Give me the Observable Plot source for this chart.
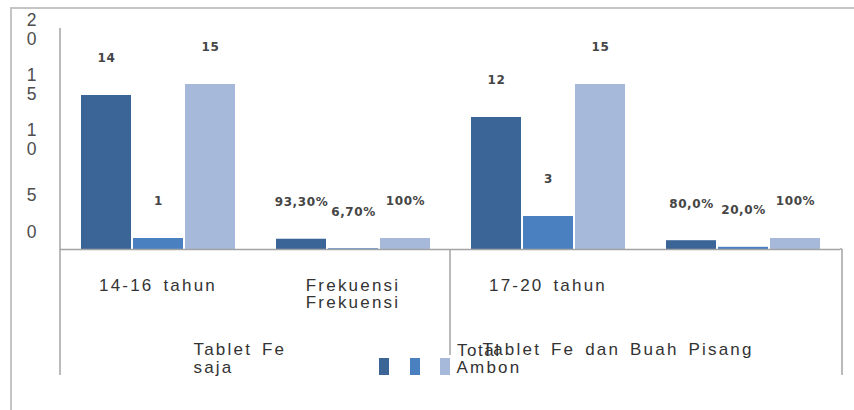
<!DOCTYPE html>
<html><head><meta charset="utf-8">
<script src="https://cdn.jsdelivr.net/npm/d3@7"></script>
<script src="https://cdn.jsdelivr.net/npm/@observablehq/plot@0.6"></script>
<style>
body{margin:0;background:#fff;}
#wrap{position:relative;width:854px;height:410px;overflow:hidden;background:#fff;font-family:"Liberation Sans",Arial,sans-serif;}
#border{position:absolute;left:10px;top:7px;width:900px;height:500px;border-top:2px solid #c4c4c4;border-left:2px solid #c4c4c4;pointer-events:none;}
#wrap svg{position:absolute;left:0;top:0;}
#wrap svg g[font-size="17"]{letter-spacing:2.2px;word-spacing:3px;}
#wrap svg g[font-size="12"]{letter-spacing:0.6px;}
.leg{position:absolute;top:358px;width:10px;height:17px;}
.legtxt{position:absolute;font-size:17px;letter-spacing:1.5px;color:#333;}
</style></head><body>
<div id="wrap"><div id="border"></div></div>
<script>
// ---- data ----
const groupKeys = ["g1", "g2", "g3", "g4"];
const groupLabels = ["14-16 tahun", "Frekuensi\nFrekuensi", "17-20 tahun", ""];
const seriesKeys = ["s1", "s2", "Total"];
const seriesColors = ["#3c6597", "#4a7fc0", "#a6b9da"];
const legendLabels = ["", "", "Total"];
const values = [
  [14, 1, 15],
  [0.933, 0.067, 1],
  [12, 3, 15],
  [0.8, 0.2, 1]
];
const valueLabels = [
  ["14", "1", "15"],
  ["93,30%", "6,70%", "100%"],
  ["12", "3", "15"],
  ["80,0%", "20,0%", "100%"]
];
const yTicks = [0, 5, 10, 15, 20];
const yTickLabels = ["0", "5", "1\n0", "1\n5", "2\n0"];
const topGroupKeys = ["g1", "g3"];
const topGroupLabels = ["Tablet Fe\nsaja", "Tablet Fe dan Buah Pisang"];
const topGroupExtra = ["", "Ambon"];

// ---- table ----
const data = groupKeys.flatMap((g, i) => seriesKeys.map((s, j) => ({
  group: g, series: s, value: values[i][j], label: valueLabels[i][j]
})));
const ticks = yTicks.map((t, i) => ({t, label: yTickLabels[i]}));
const groupRows = groupKeys.map((g, i) => ({g, label: groupLabels[i]}));
const topRows = topGroupKeys.map((g, i) => ({g, label: topGroupLabels[i], extra: topGroupExtra[i]}));

const txt = {fill: "#333", fontSize: 17};
const chart = Plot.plot({
  width: 854, height: 410,
  marginLeft: 60, marginRight: 14, marginTop: 29, marginBottom: 161,
  style: {background: "transparent", fontFamily: "'Liberation Sans', Arial, sans-serif", overflow: "visible"},
  fx: {domain: groupKeys, paddingInner: 0, paddingOuter: 0, axis: null},
  x: {domain: seriesKeys, paddingInner: 0.04, paddingOuter: 0.39, axis: null},
  y: {domain: [0, 20], axis: null},
  color: {domain: seriesKeys, range: seriesColors},
  marks: [
    Plot.barY(data, {fx: "group", x: "series", y: "value", fill: "series"}),
    Plot.text(data, {fx: "group", x: "series", y: "value", text: "label", dy: -37,
      fontSize: 12, fontWeight: "bold", fill: "#454545", fontFamily: "DejaVu Sans"}),
    Plot.ruleY([0], {stroke: "#a3a3a3", strokeWidth: 1.5}),
    Plot.text(ticks.filter(d => d.t !== 0), {fx: () => groupKeys[0], y: "t", text: "label",
      frameAnchor: "left", dx: -29, textAnchor: "middle", fontSize: 17.5, lineHeight: 1.1, fill: "#4d4d4d"}),
    Plot.text(ticks.filter(d => d.t === 0), {fx: () => groupKeys[0], y: "t", text: "label",
      frameAnchor: "left", dx: -29, dy: -17, textAnchor: "middle", fontSize: 17.5, fill: "#4d4d4d"}),
    Plot.text(groupRows, {fx: "g", text: "label", frameAnchor: "bottom", lineAnchor: "top",
      dy: 29, lineHeight: 1.0, ...txt}),
    Plot.text(topRows.slice(0, 1), {fx: "g", text: "label", frameAnchor: "bottom-left", lineAnchor: "top",
      textAnchor: "start", dx: 133, dy: 93, lineHeight: 1.05, ...txt}),
    Plot.text(topRows.slice(1), {fx: "g", text: "label", frameAnchor: "bottom-left", lineAnchor: "top",
      textAnchor: "start", dx: 32, dy: 93, ...txt}),
    Plot.text(topRows.slice(1), {fx: "g", text: "extra", frameAnchor: "bottom-left", lineAnchor: "top",
      textAnchor: "start", dx: 6, dy: 111, ...txt})
  ]
});
document.getElementById("wrap").appendChild(chart);

// structure lines drawn with the chart's own scales
const fxS = chart.scale("fx"), yS = chart.scale("y");
const svg = d3.select(chart);
const y0 = yS.apply(0);
const left = fxS.apply(groupKeys[0]);
const mid = fxS.apply(groupKeys[2]);
const right = fxS.apply(groupKeys[3]) + fxS.bandwidth;
const lines = [
  {x: left, y1: yS.apply(20) - 1, y2: y0 + 126},
  {x: mid, y1: y0, y2: y0 + 106},
  {x: right + 2, y1: y0, y2: y0 + 126}
];
svg.append("line").attr("x1", right).attr("x2", right + 2).attr("y1", y0).attr("y2", y0)
  .attr("stroke", "#a3a3a3").attr("stroke-width", 1.5);
svg.selectAll("line.sep").data(lines).join("line").attr("class", "sep")
  .attr("x1", d => d.x).attr("x2", d => d.x).attr("y1", d => d.y1).attr("y2", d => d.y2)
  .attr("stroke", "#a3a3a3").attr("stroke-width", 1.5);

// legend
const wrap = document.getElementById("wrap");
seriesKeys.forEach((s, i) => {
  const sq = document.createElement("div");
  sq.className = "leg";
  sq.style.left = (379 + i * 30.5) + "px";
  sq.style.background = chart.scale("color").apply(s);
  wrap.appendChild(sq);
  if (legendLabels[i]) {
    const t = document.createElement("div");
    t.className = "legtxt";
    t.style.left = (379 + i * 30.5 + 17) + "px";
    t.style.top = "341px";
    t.textContent = legendLabels[i];
    wrap.appendChild(t);
  }
});
</script>
</body></html>
